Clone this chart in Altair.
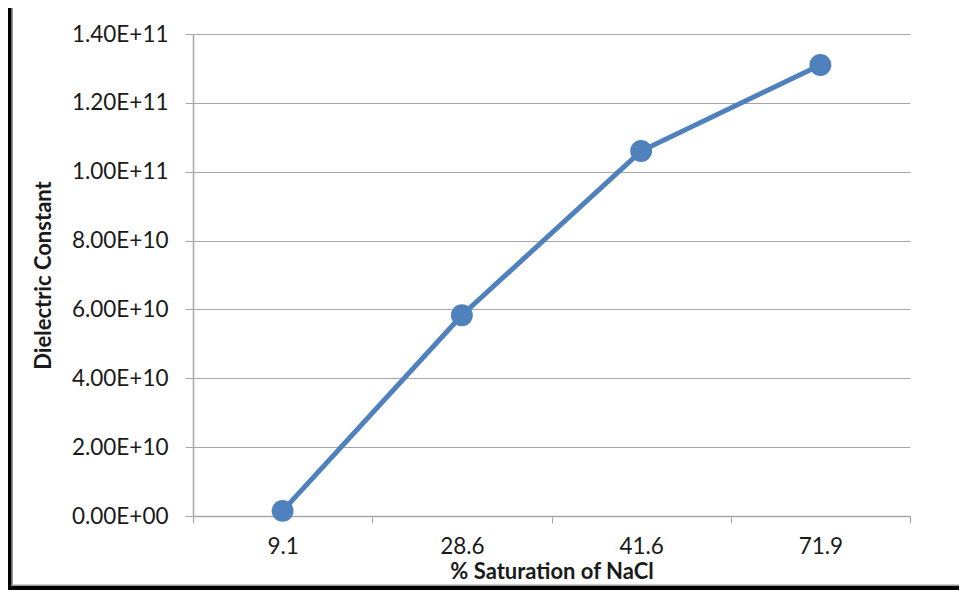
import altair as alt
import pandas as pd

# Data
categories = ["9.1", "28.6", "41.6", "71.9"]
dielectric = [1.5e9, 5.83e10, 1.06e11, 1.31e11]
y_ticks = [0, 2e10, 4e10, 6e10, 8e10, 1e11, 1.2e11, 1.4e11]

df = pd.DataFrame({"sat": categories, "val": dielectric})

FONT = "Lato"
BLUE = "#4f81bd"
GRID = "#a6a6a6"
TXT = "#1a1a1a"

x_enc = alt.X(
    "sat:N",
    sort=categories,
    scale=alt.Scale(paddingInner=0, paddingOuter=0),
    axis=alt.Axis(
        title="% Saturation of NaCl",
        labelAngle=0,
        tickBand="extent",
        tickSize=7,
        tickColor=GRID,
        domainColor=GRID,
        domainWidth=1.5,
        grid=False,
        labelPadding=12,
        labelFontSize=22.5,
        labelFont=FONT,
        labelColor=TXT,
        titleFont=FONT,
        titleFontSize=22,
        titleFontWeight="bold",
        titleColor=TXT,
        titlePadding=4,
    ),
)
y_enc = alt.Y(
    "val:Q",
    scale=alt.Scale(domain=[0, 1.4e11], nice=False),
    axis=alt.Axis(
        title="Dielectric Constant",
        values=y_ticks,
        labelExpr="datum.value == 0 ? '0.00E+00' : replace(format(datum.value, '.2e'), 'e', 'E')",
        tickSize=8,
        tickColor=GRID,
        domainColor=GRID,
        domainWidth=1.5,
        gridColor=GRID,
        gridWidth=1.2,
        labelPadding=17,
        labelFontSize=22.5,
        labelFont=FONT,
        labelColor=TXT,
        titleFont=FONT,
        titleFontSize=22,
        titleFontWeight="bold",
        titleColor=TXT,
        titlePadding=16,
    ),
)

base = alt.Chart(df)
line = base.mark_line(color=BLUE, strokeWidth=5).encode(x=x_enc, y=y_enc)
pts = base.mark_circle(color=BLUE, size=480, opacity=1).encode(x=x_enc, y=y_enc)

frame_df = pd.DataFrame({"k": [0]})
fb = alt.Chart(frame_df)
left_black = fb.mark_rect(color="black").encode(
    x=alt.value(-185), x2=alt.value(-181.5), y=alt.value(-26), y2=alt.value(556)
)
left_gray = fb.mark_rect(color="#9a9a9a").encode(
    x=alt.value(-181.5), x2=alt.value(-180), y=alt.value(-26), y2=alt.value(552)
)
bottom_black = fb.mark_rect(color="black").encode(
    x=alt.value(-185), x2=alt.value(766), y=alt.value(552), y2=alt.value(556)
)
bottom_gray = fb.mark_rect(color="#9a9a9a").encode(
    x=alt.value(-181.5), x2=alt.value(766), y=alt.value(550.5), y2=alt.value(552)
)

chart = alt.layer(
    line, pts, left_gray, left_black, bottom_gray, bottom_black
).properties(
    width=717,
    height=482,
    autosize=alt.AutoSizeParams(type="none"),
    padding={"left": 185, "top": 26, "right": 49, "bottom": 74},
    background="white",
).configure_view(stroke=None)

chart.save("out.html", embed_options={"renderer": "svg", "actions": False})
